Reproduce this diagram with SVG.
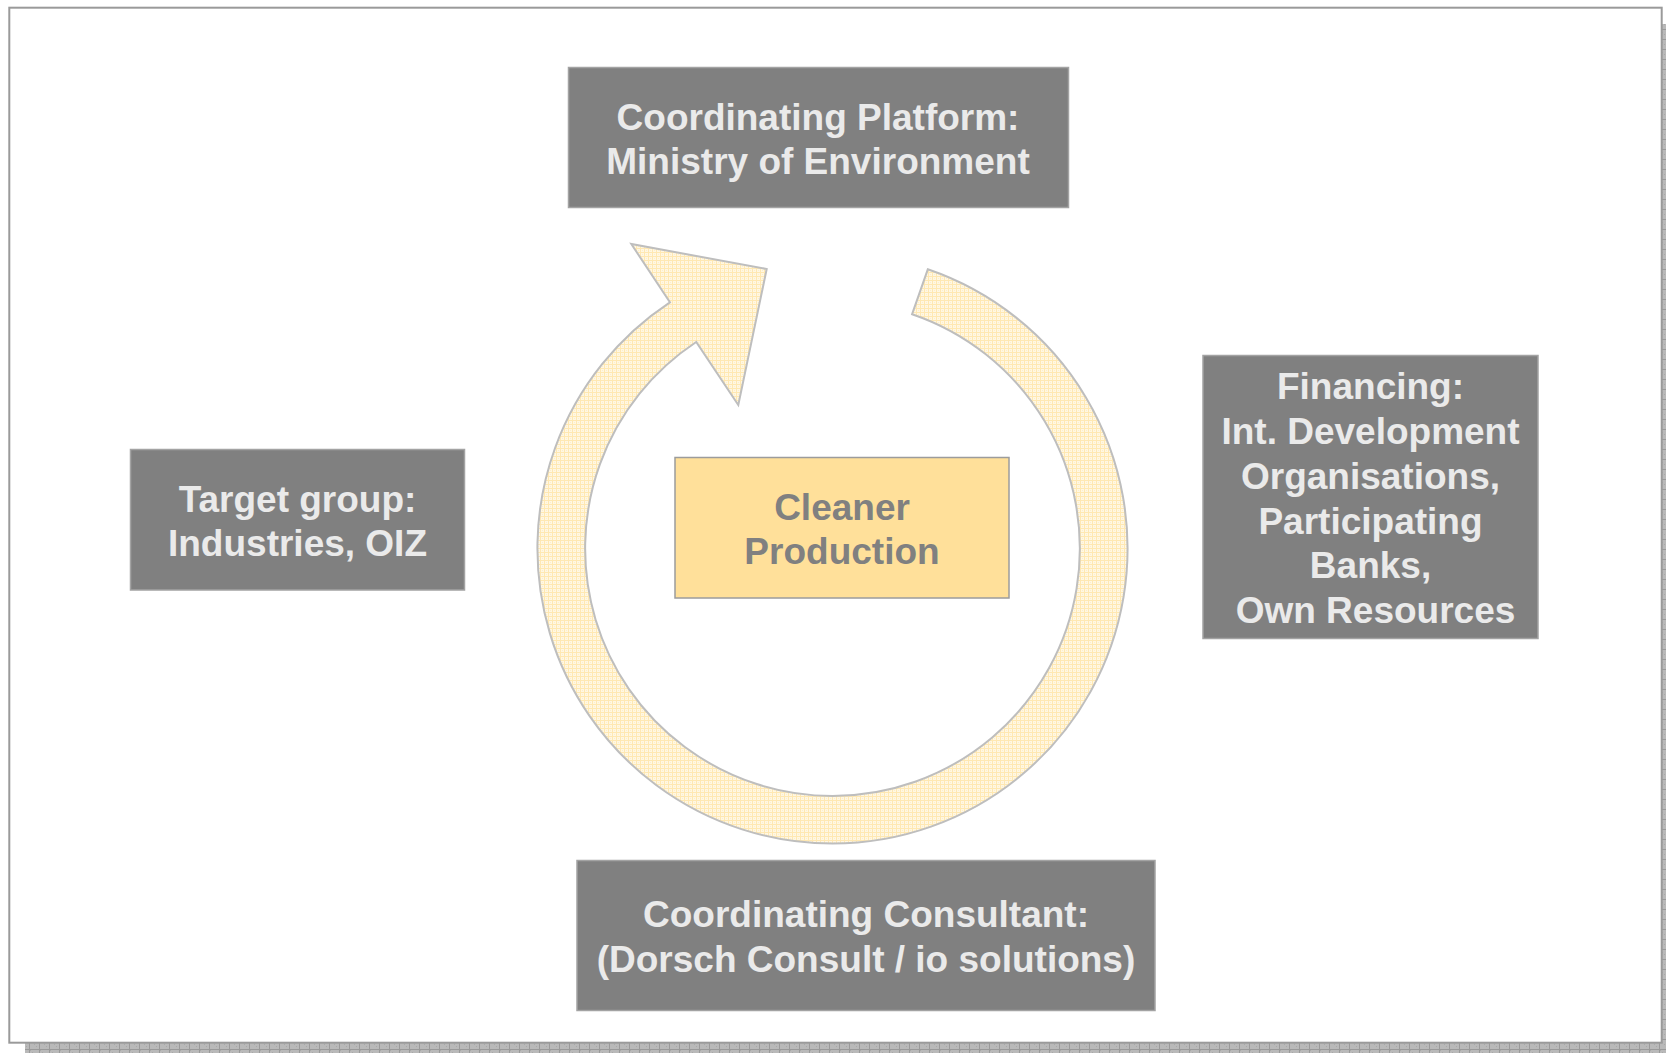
<svg xmlns="http://www.w3.org/2000/svg" width="1666" height="1053" viewBox="0 0 1666 1053">
  <defs>
    <pattern id="shadowPat" x="0" y="0" width="10" height="10" patternUnits="userSpaceOnUse">
      <rect width="10" height="10" fill="#B9B9B9"/>
      <rect x="0" y="0" width="1" height="1" fill="#A8A8A8"/>
      <rect x="2" y="2" width="1" height="1" fill="#A8A8A8"/>
      <rect x="4" y="4" width="1" height="1" fill="#A8A8A8"/>
      <rect x="6" y="6" width="1" height="1" fill="#A8A8A8"/>
      <rect x="9" y="0" width="1" height="10" fill="#9A9A9A"/>
      <rect x="0" y="9" width="10" height="1" fill="#9A9A9A"/>
    </pattern>
    <pattern id="arrowPat" x="0" y="0" width="4" height="4" patternUnits="userSpaceOnUse">
      <rect width="4" height="4" fill="#FFF7E3"/>
      <rect x="0" y="0" width="4" height="1" fill="#FFE8B2"/>
      <rect x="0" y="0" width="1" height="4" fill="#FFE8B2"/>
      <rect x="2" y="2" width="1" height="1" fill="#FFEFC8"/>
    </pattern>
  </defs>
  <style>
    .box { fill: #808080; stroke: #A3A3A3; stroke-width: 1.5; }
    .core { fill: #FFE09A; stroke: #9C9C9C; stroke-width: 1.5; }
    .lbl { font-family: "Liberation Sans", Arial, sans-serif; font-weight: bold; font-size: 37px; fill: #EAEAEA; text-anchor: middle; }
    .corelbl { fill: #808080; }
    .cycle { fill: url(#arrowPat); stroke: #BEBEBE; stroke-width: 2; stroke-linejoin: miter; }
  </style>

  <!-- page frame with shadow -->
  <rect x="25" y="24" width="1660" height="1040" fill="url(#shadowPat)"/>
  <rect x="9.3" y="7.7" width="1652.4" height="1035" fill="#FFFFFF" stroke="#9A9A9A" stroke-width="2"/>

  <g id="connectors">
    <path class="cycle" d="M 927.8 269.3 A 295 295 0 0 1 832.5 843.5 A 295 295 0 0 1 669.9 302.3 L 631.3 244 L 766.7 269 L 738.3 405 L 696.2 342 A 247.5 247.5 0 0 0 832.5 796 A 247.5 247.5 0 0 0 912.1 314.2 Z"/>
  </g>

  <g id="node-platform">
    <rect class="box" x="568.5" y="67.5" width="500" height="140"/>
    <text class="lbl" x="818" y="130">Coordinating Platform:</text>
    <text class="lbl" x="818" y="174">Ministry of Environment</text>
  </g>

  <g id="node-target">
    <rect class="box" x="130.5" y="449.5" width="334" height="140.5"/>
    <text class="lbl" x="297.5" y="512">Target group:</text>
    <text class="lbl" x="297.5" y="556">Industries, OIZ</text>
  </g>

  <g id="node-financing">
    <rect class="box" x="1203" y="355.5" width="335" height="283"/>
    <text class="lbl" x="1370.5" y="399">Financing:</text>
    <text class="lbl" x="1370.5" y="444">Int. Development</text>
    <text class="lbl" x="1370.5" y="489">Organisations,</text>
    <text class="lbl" x="1370.5" y="534">Participating</text>
    <text class="lbl" x="1370.5" y="578">Banks,</text>
    <text class="lbl" x="1375.5" y="623">Own Resources</text>
  </g>

  <g id="node-consultant">
    <rect class="box" x="577" y="860.5" width="578" height="150"/>
    <text class="lbl" x="866" y="927">Coordinating Consultant:</text>
    <text class="lbl" x="866" y="972">(Dorsch Consult / io solutions)</text>
  </g>

  <g id="node-cleaner">
    <rect class="core" x="675" y="457.5" width="334" height="140.5"/>
    <text class="lbl corelbl" x="842" y="520">Cleaner</text>
    <text class="lbl corelbl" x="842" y="564">Production</text>
  </g>
</svg>
